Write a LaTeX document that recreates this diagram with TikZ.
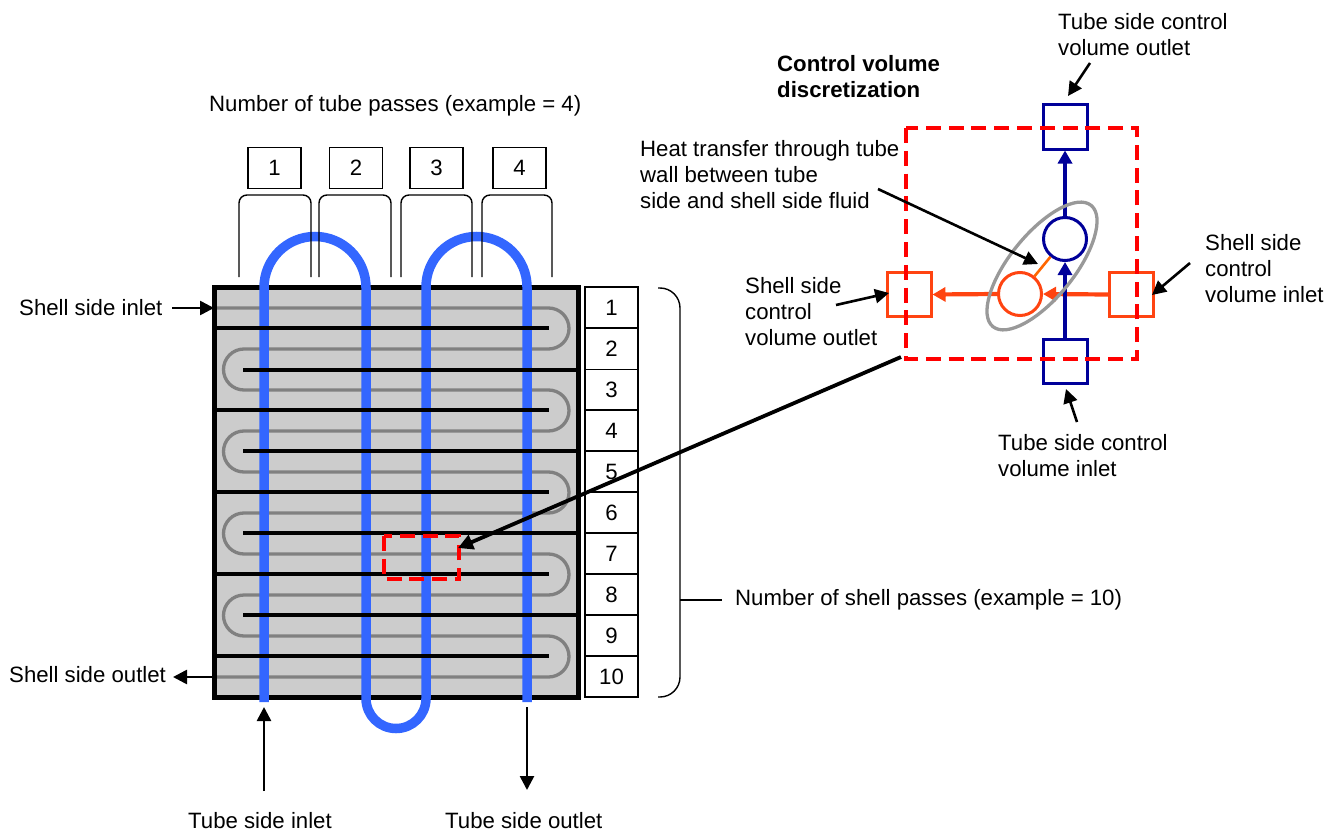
\documentclass[tikz,border=0pt]{standalone}
\usepackage{fontspec}
\setmainfont{Liberation Sans}
\usetikzlibrary{arrows.meta,shapes.geometric}
\definecolor{tubeblue}{HTML}{3366FF}
\definecolor{navy}{HTML}{000099}
\definecolor{orng}{HTML}{FF4411}
\definecolor{linkorng}{HTML}{FF6600}
\definecolor{redbox}{HTML}{FF0000}
\newcommand{\dn}[1]{\raisebox{-1.3pt}{#1}}
\tikzset{
 lbl/.style={anchor=west,inner sep=0pt,align=left,font=\fontsize{22.2}{26}\selectfont},
 numbox/.style={draw=black,line width=1.4pt,fill=white,minimum width=53pt,minimum height=41pt,inner sep=0pt,font=\fontsize{22.2}{24}\selectfont},
 rowbox/.style={draw=black,line width=1.4pt,fill=white,minimum width=53pt,minimum height=41pt,inner sep=0pt,font=\fontsize{22.2}{24}\selectfont},
 tipped/.style={-{Triangle[length=14pt,width=14pt]},line width=2.6pt,black},
 brace/.style={draw=black,line width=1.4pt,rounded corners=8pt},
 baffle/.style={line width=3.3pt,black},
 blueflow/.style={draw=navy,line width=4pt},
 orangeflow/.style={draw=orng,line width=4.2pt},
 flowsq/.style={fill=white,line width=3pt,minimum size=44pt,inner sep=0pt},
 flowcirc/.style={circle,line width=3pt,minimum size=43pt,inner sep=0pt},
 flowtip/.style={-{Triangle[length=13pt,width=14pt]}},
 redd/.style={draw=redbox,line width=4.3pt,dash pattern=on 15pt off 7.8pt},
}
\begin{document}
\begin{tikzpicture}[x=1pt,y=-1pt]
\useasboundingbox (0,0) rectangle (1340,832);
% shell
\fill[fill=black!20] (214,287.5) rectangle (578,697);
% serpentine
\draw[draw=black!50,line width=3.3pt,rounded corners=20.5pt]
 (214,308) -- (569,308) -- (569,349) -- (223.5,349) -- (223.5,390) -- (569,390) -- (569,431) -- (223.5,431) -- (223.5,472) -- (569,472) -- (569,513) -- (223.5,513) -- (223.5,554) -- (569,554) -- (569,595) -- (223.5,595) -- (223.5,636) -- (569,636) -- (569,677) -- (214,677);
\draw[line width=5pt] (214,287.5) rectangle (578,697);
% tube
\draw[draw=tubeblue,line width=9.5pt,rounded corners=51pt]
 (264,702) -- (264,236.5) -- (366,236.5) [rounded corners=30pt] -- (366,728.5) -- (426,728.5) [rounded corners=50.5pt] -- (426,236.5) -- (527,236.5) -- (527,702);
% baffles
\foreach \y in {328,410,492,574,656} \draw[baffle] (214,\y) -- (549,\y);
\foreach \y in {370,451,533,615} \draw[baffle] (243,\y) -- (578,\y);
% pass boxes
\node[numbox] (t1) at (274.5,168) {\dn{1}};
\node[numbox] (t2) at (356,168) {\dn{2}};
\node[numbox] (t3) at (436.5,168) {\dn{3}};
\node[numbox] (t4) at (519.5,168) {\dn{4}};
\draw[brace] (239,277) -- (239,195) -- (311,195) -- (311,277);
\draw[brace] (319,277) -- (319,195) -- (391,195) -- (391,277);
\draw[brace] (401,277) -- (401,195) -- (472,195) -- (472,277);
\draw[brace] (482,277) -- (482,195) -- (552,195) -- (552,277);
\foreach \n/\y in {1/307.5,2/349,3/390,4/430.5,5/471.5,6/512.5,7/553.5,8/594.5,9/635.5,10/676.5}
  \node[rowbox] (s\n) at (611.5,\y) {\dn{\n}};
% right brace
\draw[draw=black,line width=1.4pt,rounded corners=20pt] (658,288) -- (680,288) -- (680,697) -- (658,697);
\coordinate (braceMid) at (680,600);
\node[lbl] (shellpasses) at (735,600) {Number of shell passes (example = 10)};
\draw[line width=1.4pt] (braceMid) -- (722,600);
% labels
\node[lbl] (tubepasses) at (209,106) {Number of tube passes (example = 4)};
\node[lbl] (sin) at (19,308) {Shell side inlet};
\node[lbl] (sout) at (9,675) {Shell side outlet};
\node[lbl] (tin) at (188,821) {Tube side inlet};
\node[lbl] (tout) at (445,821) {Tube side outlet};
\node[lbl,font=\fontsize{22.2}{26}\selectfont\bfseries] (cvd) at (777,77) {Control volume\\discretization};
\node[lbl] (cvtout) at (1058,34.5) {Tube side control\\volume outlet};
\node[lbl] (heat) at (640,175) {Heat transfer through tube\\wall between tube\\side and shell side fluid};
\node[lbl] (cvsout) at (745,312) {Shell side\\control\\volume outlet};
\node[lbl] (cvsin) at (1205,269) {Shell side\\control\\volume inlet};
\node[lbl] (cvtin) at (998,456) {Tube side control\\volume inlet};
% control volume detail
\node[flowsq,draw=navy] (qt) at (1065,127) {};
\node[flowsq,draw=navy] (qb) at (1065,361) {};
\node[flowsq,draw=orng] (ql) at (909,294.5) {};
\node[flowsq,draw=orng] (qr) at (1131.5,294.5) {};
\node[flowcirc,draw=navy] (cb) at (1065,239) {};
\node[flowcirc,draw=orng] (co) at (1020,294) {};
\draw[orangeflow,flowtip] (qr.west) -- (co.east);
\draw[orangeflow,flowtip] (co.west) -- (ql.east);
\draw[blueflow,flowtip] (qb.north) -- (cb.south);
\draw[blueflow,flowtip] (cb.north) -- (qt.south);
\draw[draw=linkorng,line width=2.6pt] (co) -- (cb);
\node[ellipse,draw=black!40,line width=3.3pt,minimum width=156pt,minimum height=64pt,inner sep=0pt,rotate=51] (ell) at (1042,266) {};
% red boxes
\draw[redd] (906,128) rectangle (1137,359);
\draw[redd] (384,536) rectangle (459,579);
\coordinate (bigfrom) at (901,357);
\coordinate (bigto) at (458,548);
\draw[-{Triangle[length=15pt,width=15pt]},line width=3.8pt] (bigfrom) -- (bigto);
% black arrows
\coordinate (a1) at (172,308); \coordinate (a1e) at (214,308);
\draw[tipped] (a1) -- (a1e);
\coordinate (a2) at (214,677); \coordinate (a2e) at (173,677);
\draw[tipped] (a2) -- (a2e);
\coordinate (a3) at (264,791); \coordinate (a3e) at (264,707);
\draw[tipped] (a3) -- (a3e);
\coordinate (a4) at (527,707); \coordinate (a4e) at (527,790);
\draw[tipped] (a4) -- (a4e);
\coordinate (a5) at (878,189); \coordinate (a5e) at (1038,264);
\draw[tipped] (a5) -- (a5e);
\coordinate (a6) at (1090,63); \coordinate (a6e) at (1068,96);
\draw[tipped] (a6) -- (a6e);
\coordinate (a7) at (836,305); \coordinate (a7e) at (889,293);
\draw[tipped] (a7) -- (a7e);
\coordinate (a8) at (1190,263); \coordinate (a8e) at (1152,295);
\draw[tipped] (a8) -- (a8e);
\coordinate (a9) at (1077,422); \coordinate (a9e) at (1066,389);
\draw[tipped] (a9) -- (a9e);
\end{tikzpicture}
\end{document}
